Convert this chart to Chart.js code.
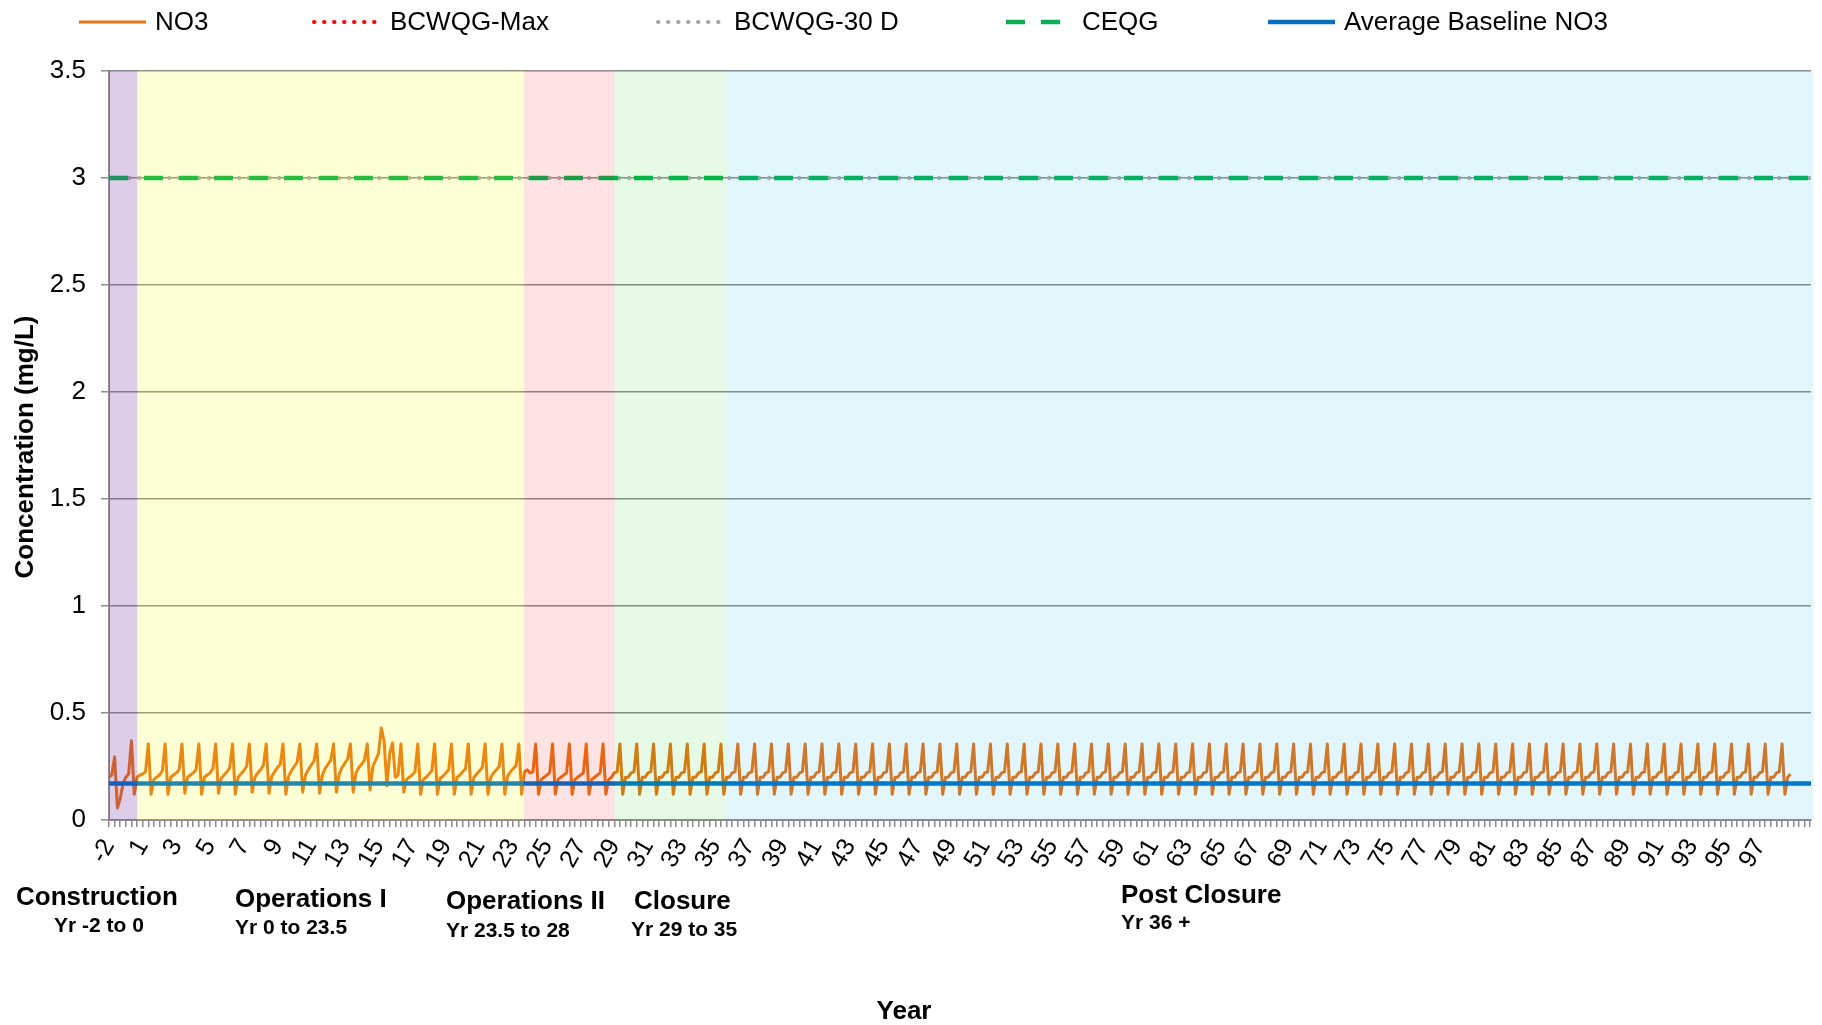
<!DOCTYPE html>
<html>
<head>
<meta charset="utf-8">
<script src="https://cdn.jsdelivr.net/npm/chart.js@4.4.1/dist/chart.umd.min.js"></script>
<style>
html,body{margin:0;padding:0;background:#ffffff;}
#wrap{width:1822px;height:1025px;position:relative;}
</style>
</head>
<body>
<div id="wrap"><canvas id="c" width="1822" height="1025"></canvas></div>
<script>
// ---------------- DATA ----------------
// NO3 concentration (mg/L), 6 samples per year along the axis (one row per axis year)
const samplesPerYear = 6;
const no3Rows = [
  [0.20, 0.21, 0.295, 0.056, 0.10, 0.17],
  [0.20, 0.215, 0.37, 0.12, 0.20, 0.21],
  [0.215, 0.225, 0.355, 0.12, 0.19, 0.20],
  [0.21, 0.23, 0.355, 0.12, 0.20, 0.21],
  [0.22, 0.235, 0.355, 0.125, 0.20, 0.21],
  [0.22, 0.235, 0.355, 0.12, 0.20, 0.21],
  [0.22, 0.24, 0.355, 0.125, 0.195, 0.21],
  [0.225, 0.245, 0.355, 0.12, 0.20, 0.215],
  [0.23, 0.25, 0.355, 0.13, 0.20, 0.22],
  [0.235, 0.255, 0.355, 0.125, 0.205, 0.225],
  [0.245, 0.26, 0.355, 0.12, 0.205, 0.23],
  [0.25, 0.27, 0.355, 0.13, 0.21, 0.235],
  [0.255, 0.275, 0.355, 0.125, 0.21, 0.24],
  [0.26, 0.28, 0.355, 0.13, 0.215, 0.245],
  [0.265, 0.285, 0.355, 0.13, 0.22, 0.245],
  [0.26, 0.28, 0.355, 0.14, 0.25, 0.28],
  [0.31, 0.43, 0.37, 0.16, 0.31, 0.36],
  [0.20, 0.21, 0.355, 0.13, 0.19, 0.20],
  [0.21, 0.225, 0.355, 0.12, 0.19, 0.20],
  [0.215, 0.23, 0.355, 0.12, 0.195, 0.205],
  [0.22, 0.235, 0.355, 0.12, 0.20, 0.21],
  [0.225, 0.24, 0.355, 0.12, 0.20, 0.215],
  [0.23, 0.245, 0.355, 0.12, 0.20, 0.22],
  [0.235, 0.25, 0.355, 0.12, 0.205, 0.225],
  [0.24, 0.255, 0.355, 0.12, 0.225, 0.235],
  [0.22, 0.225, 0.355, 0.12, 0.19, 0.20],
  [0.21, 0.22, 0.355, 0.12, 0.19, 0.20],
  [0.21, 0.22, 0.355, 0.12, 0.19, 0.20],
  [0.21, 0.22, 0.355, 0.12, 0.19, 0.20],
  [0.21, 0.22, 0.355, 0.12, 0.19, 0.20],
  [0.22, 0.225, 0.355, 0.12, 0.20, 0.20],
  [0.22, 0.225, 0.355, 0.12, 0.20, 0.20],
  [0.22, 0.225, 0.355, 0.12, 0.20, 0.20],
  [0.22, 0.225, 0.355, 0.12, 0.20, 0.20],
  [0.22, 0.225, 0.355, 0.12, 0.20, 0.20],
  [0.22, 0.225, 0.355, 0.12, 0.20, 0.20],
  [0.22, 0.225, 0.355, 0.12, 0.20, 0.20],
  [0.22, 0.225, 0.355, 0.12, 0.20, 0.20],
  [0.22, 0.225, 0.355, 0.12, 0.20, 0.20],
  [0.22, 0.225, 0.355, 0.12, 0.20, 0.20],
  [0.22, 0.225, 0.355, 0.12, 0.20, 0.20],
  [0.22, 0.225, 0.355, 0.12, 0.20, 0.20],
  [0.22, 0.225, 0.355, 0.12, 0.20, 0.20],
  [0.22, 0.225, 0.355, 0.12, 0.20, 0.20],
  [0.22, 0.225, 0.355, 0.12, 0.20, 0.20],
  [0.22, 0.225, 0.355, 0.12, 0.20, 0.20],
  [0.22, 0.225, 0.355, 0.12, 0.20, 0.20],
  [0.22, 0.225, 0.355, 0.12, 0.20, 0.20],
  [0.22, 0.225, 0.355, 0.12, 0.20, 0.20],
  [0.22, 0.225, 0.355, 0.12, 0.20, 0.20],
  [0.22, 0.225, 0.355, 0.12, 0.20, 0.20],
  [0.22, 0.225, 0.355, 0.12, 0.20, 0.20],
  [0.22, 0.225, 0.355, 0.12, 0.20, 0.20],
  [0.22, 0.225, 0.355, 0.12, 0.20, 0.20],
  [0.22, 0.225, 0.355, 0.12, 0.20, 0.20],
  [0.22, 0.225, 0.355, 0.12, 0.20, 0.20],
  [0.22, 0.225, 0.355, 0.12, 0.20, 0.20],
  [0.22, 0.225, 0.355, 0.12, 0.20, 0.20],
  [0.22, 0.225, 0.355, 0.12, 0.20, 0.20],
  [0.22, 0.225, 0.355, 0.12, 0.20, 0.20],
  [0.22, 0.225, 0.355, 0.12, 0.20, 0.20],
  [0.22, 0.225, 0.355, 0.12, 0.20, 0.20],
  [0.22, 0.225, 0.355, 0.12, 0.20, 0.20],
  [0.22, 0.225, 0.355, 0.12, 0.20, 0.20],
  [0.22, 0.225, 0.355, 0.12, 0.20, 0.20],
  [0.22, 0.225, 0.355, 0.12, 0.20, 0.20],
  [0.22, 0.225, 0.355, 0.12, 0.20, 0.20],
  [0.22, 0.225, 0.355, 0.12, 0.20, 0.20],
  [0.22, 0.225, 0.355, 0.12, 0.20, 0.20],
  [0.22, 0.225, 0.355, 0.12, 0.20, 0.20],
  [0.22, 0.225, 0.355, 0.12, 0.20, 0.20],
  [0.22, 0.225, 0.355, 0.12, 0.20, 0.20],
  [0.22, 0.225, 0.355, 0.12, 0.20, 0.20],
  [0.22, 0.225, 0.355, 0.12, 0.20, 0.20],
  [0.22, 0.225, 0.355, 0.12, 0.20, 0.20],
  [0.22, 0.225, 0.355, 0.12, 0.20, 0.20],
  [0.22, 0.225, 0.355, 0.12, 0.20, 0.20],
  [0.22, 0.225, 0.355, 0.12, 0.20, 0.20],
  [0.22, 0.225, 0.355, 0.12, 0.20, 0.20],
  [0.22, 0.225, 0.355, 0.12, 0.20, 0.20],
  [0.22, 0.225, 0.355, 0.12, 0.20, 0.20],
  [0.22, 0.225, 0.355, 0.12, 0.20, 0.20],
  [0.22, 0.225, 0.355, 0.12, 0.20, 0.20],
  [0.22, 0.225, 0.355, 0.12, 0.20, 0.20],
  [0.22, 0.225, 0.355, 0.12, 0.20, 0.20],
  [0.22, 0.225, 0.355, 0.12, 0.20, 0.20],
  [0.22, 0.225, 0.355, 0.12, 0.20, 0.20],
  [0.22, 0.225, 0.355, 0.12, 0.20, 0.20],
  [0.22, 0.225, 0.355, 0.12, 0.20, 0.20],
  [0.22, 0.225, 0.355, 0.12, 0.20, 0.20],
  [0.22, 0.225, 0.355, 0.12, 0.20, 0.20],
  [0.22, 0.225, 0.355, 0.12, 0.20, 0.20],
  [0.22, 0.225, 0.355, 0.12, 0.20, 0.20],
  [0.22, 0.225, 0.355, 0.12, 0.20, 0.20],
  [0.22, 0.225, 0.355, 0.12, 0.20, 0.20],
  [0.22, 0.225, 0.355, 0.12, 0.20, 0.20],
  [0.22, 0.225, 0.355, 0.12, 0.20, 0.20],
  [0.22, 0.225, 0.355, 0.12, 0.20, 0.20],
  [0.22, 0.225, 0.355, 0.12, 0.20, 0.20],
  [0.22, 0.225, 0.355, 0.12, 0.20, 0.215]
];
const baselineNO3 = 0.17;   // Average Baseline NO3
const ceqgValue = 3.0;      // CEQG
const bcwqg30dValue = 3.0;  // BCWQG-30 D
const bcwqgMaxValue = 32.8; // BCWQG-Max (above the plotted range)

const seriesLabels = ['NO3', 'BCWQG-Max', 'BCWQG-30 D', 'CEQG', 'Average Baseline NO3'];
const xTickLabels = ['-2','1','3','5','7','9','11','13','15','17','19','21','23','25','27','29',
  '31','33','35','37','39','41','43','45','47','49','51','53','55','57','59','61','63','65',
  '67','69','71','73','75','77','79','81','83','85','87','89','91','93','95','97'];
const axisMax = 101.05;

const phaseNames = ['Construction', 'Operations I', 'Operations II', 'Closure', 'Post Closure'];
const phaseYears = ['Yr -2 to 0', 'Yr 0 to 23.5', 'Yr 23.5 to 28', 'Yr 29 to 35', 'Yr 36 +'];
const phaseStart = [0, 1.68, 24.64, 30.04, 36.69];
const phaseEnd   = [1.68, 24.64, 30.04, 36.69, 101.2];

const yAxisTitle = 'Concentration (mg/L)';
const xAxisTitle = 'Year';

// ---------------- STYLE ----------------
const FONT = "'Liberation Sans', Arial, Helvetica, sans-serif";
const GRID = '#8c8c8c';
const phaseFill = ['rgba(112,48,160,0.24)', 'rgba(255,255,0,0.16)', 'rgba(255,0,0,0.11)',
                   'rgba(0,220,0,0.10)', 'rgba(0,176,240,0.11)'];

const no3Points = no3Rows.flat().map((v, i) => ({x: i / samplesPerYear, y: v}));
const span = v => [{x: 0, y: v}, {x: axisMax, y: v}];
const tickValues = [];
for (let i = 0; i / 3 <= axisMax; i++) tickValues.push(i / 3);

const datasets = [
  {label: seriesLabels[0], data: no3Points, borderColor: 'rgb(232,114,20)', borderWidth: 3,
   pointRadius: 0, tension: 0, borderJoinStyle: 'round', order: 5},
  {label: seriesLabels[1], data: span(bcwqgMaxValue), borderColor: '#FF0000', borderWidth: 4,
   borderDash: [0.5, 9.5], borderCapStyle: 'round', pointRadius: 0, order: 4},
  {label: seriesLabels[2], data: span(bcwqg30dValue), borderColor: '#A6A6A6', borderWidth: 4,
   borderDash: [0.5, 9.5], borderCapStyle: 'round', pointRadius: 0, order: 3},
  {label: seriesLabels[3], data: span(ceqgValue), borderColor: '#00B050', borderWidth: 4.5,
   borderDash: [19, 16], pointRadius: 0, order: 2},
  {label: seriesLabels[4], data: span(baselineNO3), borderColor: '#0070C0', borderWidth: 4.5,
   pointRadius: 0, order: 1}
];

const overlayPlugin = {
  id: 'phaseOverlay',
  afterDatasetsDraw(chart) {
    const {ctx, chartArea: a, scales: {x}} = chart;
    ctx.save();
    phaseStart.forEach((s, i) => {
      const x0 = x.getPixelForValue(s), x1 = x.getPixelForValue(phaseEnd[i]);
      ctx.fillStyle = phaseFill[i];
      ctx.fillRect(x0, a.top, x1 - x0, a.bottom - a.top);
    });
    ctx.restore();
  }
};

const legendSlots = [79, 314, 658, 1006, 1268];
const textPlugin = {
  id: 'texts',
  afterDraw(chart) {
    const ctx = chart.ctx;
    ctx.save();
    // legend
    ctx.textBaseline = 'middle';
    ctx.textAlign = 'left';
    ctx.font = '26px ' + FONT;
    chart.data.datasets.forEach((ds, i) => {
      const x0 = legendSlots[i], y = 22;
      ctx.save();
      ctx.strokeStyle = ds.borderColor;
      ctx.lineWidth = ds.borderWidth;
      ctx.setLineDash(ds.borderDash || []);
      ctx.lineCap = ds.borderCapStyle || 'butt';
      ctx.beginPath();
      ctx.moveTo(x0, y);
      ctx.lineTo(x0 + 67, y);
      ctx.stroke();
      ctx.restore();
      ctx.fillStyle = '#000';
      ctx.fillText(ds.label, x0 + 76, y + 1);
    });
    // y axis title
    ctx.save();
    ctx.translate(26, 447);
    ctx.rotate(-Math.PI / 2);
    ctx.textAlign = 'center';
    ctx.font = 'bold 26px ' + FONT;
    ctx.fillText(yAxisTitle, 0, 0);
    ctx.restore();
    // x axis title
    ctx.textAlign = 'center';
    ctx.font = 'bold 26px ' + FONT;
    ctx.fillText(xAxisTitle, 904, 1012);
    // phase labels
    const namePos = [[16, 898, 'left'], [235, 900, 'left'], [446, 902, 'left'], [634, 902, 'left'], [1121, 896, 'left']];
    const yearPos = [[99, 926, 'center'], [235, 928, 'left'], [446, 931, 'left'], [631, 930, 'left'], [1121, 923, 'left']];
    phaseNames.forEach((n, i) => {
      ctx.font = 'bold 26px ' + FONT;
      ctx.textAlign = namePos[i][2];
      ctx.fillText(n, namePos[i][0], namePos[i][1]);
      ctx.font = 'bold 21px ' + FONT;
      ctx.textAlign = yearPos[i][2];
      ctx.fillText(phaseYears[i], yearPos[i][0], yearPos[i][1]);
    });
    ctx.restore();
  }
};

new Chart(document.getElementById('c'), {
  type: 'line',
  data: {datasets},
  options: {
    responsive: false,
    animation: false,
    layout: {padding: {left: 0, right: 11, top: 71, bottom: 0}},
    plugins: {legend: {display: false}, tooltip: {enabled: false}, title: {display: false}},
    scales: {
      x: {
        type: 'linear', min: 0, max: axisMax,
        afterBuildTicks: s => { s.ticks = tickValues.map(v => ({value: v})); },
        afterFit: s => { s.height = 205; s.paddingLeft = 0; s.paddingRight = 0; },
        grid: {drawOnChartArea: false, drawTicks: true, tickLength: 7, color: GRID, lineWidth: 1.5},
        border: {display: true, color: GRID, width: 2},
        ticks: {autoSkip: false, minRotation: 60, maxRotation: 60, padding: 7, color: '#000',
          font: {family: FONT, size: 25},
          callback: (v, i) => (i % 6 === 0 && xTickLabels[i / 6] !== undefined) ? xTickLabels[i / 6] : ''}
      },
      y: {
        min: 0, max: 3.5,
        afterFit: s => { s.width = 109; s.paddingTop = 0; s.paddingBottom = 0; },
        ticks: {stepSize: 0.5, padding: 15, color: '#000', font: {family: FONT, size: 26},
          callback: v => String(v)},
        grid: {color: GRID, lineWidth: 1.5, tickLength: 8, drawTicks: true},
        border: {display: true, color: GRID, width: 2}
      }
    }
  },
  plugins: [overlayPlugin, textPlugin]
});
</script>
</body>
</html>
